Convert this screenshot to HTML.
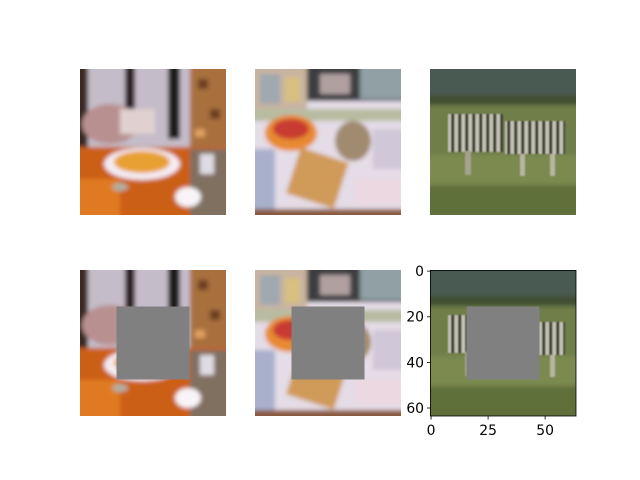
<!DOCTYPE html>
<html><head><meta charset="utf-8"><style>
html,body{margin:0;padding:0;background:#fff;}
svg{display:block;font-family:"DejaVu Sans","Liberation Sans",sans-serif;}
</style></head><body>
<svg width="640" height="480" viewBox="0 0 640 480">
<defs>
<filter id="bl" x="-20" y="-20" width="186" height="186" filterUnits="userSpaceOnUse"><feGaussianBlur stdDeviation="2"/></filter>
<filter id="bl2"><feGaussianBlur stdDeviation="0.8"/></filter>
<clipPath id="cp"><rect x="0" y="0" width="146" height="146"/></clipPath>
<pattern id="zs" width="7" height="146" patternUnits="userSpaceOnUse"><rect width="7" height="146" fill="#d8d4d0"/><rect width="3.5" height="146" fill="#3a3430"/></pattern>
<g id="img1" clip-path="url(#cp)">
 <g filter="url(#bl)">
 <rect x="-15" y="-15" width="176" height="176" fill="#c4bcc8"/>
 <rect x="-15" y="-15" width="23" height="95" fill="#3a2a24"/>
 <rect x="110" y="-15" width="51" height="105" fill="#a8703c"/>
 <rect x="118" y="10" width="10" height="10" fill="#6a4020"/><rect x="130" y="40" width="10" height="10" fill="#6a4020"/><rect x="115" y="60" width="10" height="8" fill="#e0a060"/>
 <rect x="45" y="-15" width="10" height="80" fill="#2a2428"/>
 <rect x="88" y="-15" width="12" height="85" fill="#1e1a1e"/>
 <ellipse cx="30" cy="55" rx="28" ry="20" fill="#b89090"/>
 <rect x="40" y="40" width="35" height="25" fill="#e0d0d0"/>
 <rect x="-15" y="78" width="176" height="83" fill="#cc5e16"/>
 <rect x="-15" y="110" width="55" height="51" fill="#e07a20"/>
 <ellipse cx="62" cy="95" rx="38" ry="16" fill="#f4ecf4"/>
 <ellipse cx="62" cy="93" rx="28" ry="11" fill="#e8a030"/>
 <rect x="110" y="80" width="51" height="81" fill="#807060"/>
 <rect x="120" y="85" width="14" height="20" fill="#e0dce4"/>
 <ellipse cx="108" cy="128" rx="13" ry="10" fill="#f8f4f8"/>
 <ellipse cx="40" cy="118" rx="8" ry="4" fill="#b0b0a0"/>
 </g>
</g>
<g id="img2" clip-path="url(#cp)">
 <g filter="url(#bl)">
 <rect x="-15" y="-15" width="176" height="176" fill="#e4dce6"/>
 <rect x="-15" y="-15" width="67" height="55" fill="#c8b4a0"/>
 <rect x="5" y="5" width="20" height="30" fill="#a0a8b0"/><rect x="30" y="8" width="15" height="25" fill="#d8c080"/>
 <rect x="52" y="-15" width="109" height="47" fill="#3c3c40"/>
 <rect x="65" y="5" width="30" height="20" fill="#b0a0a0"/>
 <rect x="105" y="-15" width="56" height="45" fill="#90a0a4"/>
 <rect x="-15" y="40" width="176" height="12" fill="#b8bca0"/>
 <ellipse cx="36" cy="64" rx="26" ry="18" fill="#e88a30"/>
 <ellipse cx="36" cy="60" rx="18" ry="10" fill="#c83a30"/>
 <ellipse cx="98" cy="72" rx="18" ry="20" fill="#a08a70"/>
 <rect x="-15" y="80" width="35" height="60" fill="#a8b0cc"/>
 <rect x="118" y="60" width="43" height="40" fill="#d0c8d8"/>
 <g transform="rotate(18 62 110)"><rect x="37" y="85" width="50" height="48" fill="#d09a58"/></g>
 <rect x="100" y="110" width="61" height="25" fill="#ecd8e0"/>
 <rect x="-15" y="140" width="176" height="21" fill="#8a5a40"/>
 </g>
</g>
<g id="img3" clip-path="url(#cp)">
 <g filter="url(#bl)">
 <rect x="-15" y="-15" width="176" height="176" fill="#6a7844"/>
 <rect x="-15" y="-15" width="176" height="43" fill="#4a5a52"/>
 <rect x="-15" y="26" width="176" height="10" fill="#405030"/>
 <rect x="-15" y="36" width="176" height="50" fill="#707e48"/>
 <rect x="-15" y="86" width="176" height="30" fill="#7c8a50"/>
 <rect x="-15" y="116" width="176" height="45" fill="#60703a"/>
 </g>
 <g filter="url(#bl2)" opacity="0.8">
  <rect x="18" y="45" width="55" height="38" fill="url(#zs)"/>
  <rect x="75" y="52" width="60" height="33" fill="url(#zs)"/>
  <rect x="35" y="82" width="6" height="24" fill="#b0a8a0"/>
  <rect x="90" y="85" width="5" height="22" fill="#c8c0b8"/>
  <rect x="120" y="85" width="5" height="22" fill="#c8c0b8"/>
 </g>
</g>
</defs>

<g transform="translate(80,69)"><use href="#img1"/></g>
<g transform="translate(255,69)"><use href="#img2"/></g>
<g transform="translate(430,69)"><use href="#img3"/></g>

<g transform="translate(80,270)"><use href="#img1"/><rect x="36.5" y="36.5" width="73" height="73" fill="#808080"/></g>
<g transform="translate(255,270)"><use href="#img2"/><rect x="36.5" y="36.5" width="73" height="73" fill="#808080"/></g>
<g transform="translate(430,270)"><use href="#img3"/><rect x="36.5" y="36.5" width="73" height="73" fill="#808080"/>
 <rect x="0.4" y="0.4" width="145.6" height="145.6" fill="none" stroke="#000" stroke-width="0.8"/>
</g>

<g stroke="#000" stroke-width="0.8">
 <line x1="427" y1="271.1" x2="430.5" y2="271.1"/>
 <line x1="427" y1="316.8" x2="430.5" y2="316.8"/>
 <line x1="427" y1="362.4" x2="430.5" y2="362.4"/>
 <line x1="427" y1="408" x2="430.5" y2="408"/>
</g>
<g font-size="13.9" text-anchor="end" fill="#000">
 <text x="424" y="276">0</text>
 <text x="424" y="321.7">20</text>
 <text x="424" y="367.3">40</text>
 <text x="424" y="412.9">60</text>
</g>
<g stroke="#000" stroke-width="0.8">
 <line x1="431.1" y1="416" x2="431.1" y2="419.5"/>
 <line x1="488.1" y1="416" x2="488.1" y2="419.5"/>
 <line x1="545.1" y1="416" x2="545.1" y2="419.5"/>
</g>
<g font-size="13.9" text-anchor="middle" fill="#000">
 <text x="431.1" y="435">0</text>
 <text x="488.1" y="435">25</text>
 <text x="545.1" y="435">50</text>
</g>
</svg>
</body></html>
